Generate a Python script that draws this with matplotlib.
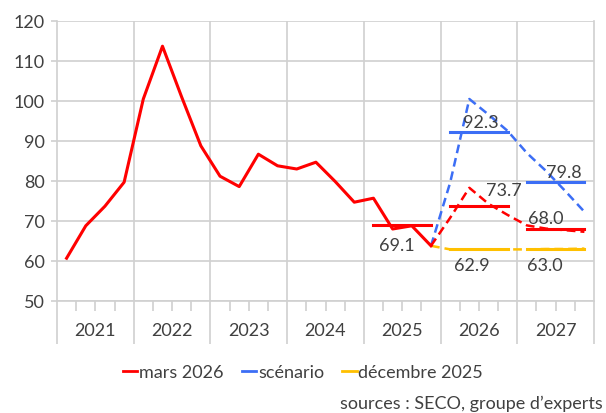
import matplotlib.pyplot as plt
import matplotlib.transforms as mtransforms
from matplotlib.lines import Line2D

plt.rcParams['font.family'] = ['Lato', 'DejaVu Sans']

years = ['2021', '2022', '2023', '2024', '2025', '2026', '2027']

# quarterly values, 2021Q1 .. 2025Q4 (observed)
hist = [60.7, 68.8, 73.7, 79.7, 100.5, 113.7, 101.0, 88.8,
        81.2, 78.6, 86.7, 83.8, 83.0, 84.7, 79.9, 74.7,
        75.7, 68.0, 68.8, 63.8]
# forecasts from 2025Q4 to 2027Q4
mars_fc = [63.8, 70.8, 78.3, 74.3, 71.5, 68.9, 68.1, 67.7, 67.3]
scen_fc = [63.8, 79.6, 100.5, 96.6, 92.5, 87.0, 82.5, 77.5, 72.3]
dec_fc = [63.8, 62.9, 62.9, 62.9, 62.9, 62.9, 63.0, 63.0, 63.1]

# annual averages
avg_mars_years = [2025, 2026, 2027]
avg_mars = [69.1, 73.7, 68.0]
avg_scen_years = [2026, 2027]
avg_scen = [92.3, 79.8]
avg_dec_years = [2026, 2027]
avg_dec = [62.9, 63.0]

red = '#FF0000'
blue = '#3C6EF5'
yellow = '#FFC000'
grid_c = '#D0D0D0'
txt_c = '#404040'

fig = plt.figure(figsize=(6.06, 4.14), dpi=100)
ax = fig.add_axes([57 / 606, 1 - 302 / 414, 537 / 606, 280 / 414])

x_hist = list(range(len(hist)))
x_fc = list(range(len(hist) - 1, len(hist) - 1 + len(mars_fc)))

ax.plot(x_fc, dec_fc, color=yellow, lw=1.8, ls=(0, (3.5, 2)), zorder=3)
ax.plot(x_fc, scen_fc, color=blue, lw=1.8, ls=(0, (3.5, 2)), zorder=3)
ax.plot(x_fc, mars_fc, color=red, lw=1.8, ls=(0, (3.5, 2)), zorder=4)
ax.plot(x_hist, hist, color=red, lw=2.2, zorder=5)


def qpos(year):
    i = years.index(str(year))
    return 4 * i, 4 * i + 3


def label(x, v, dy, va):
    ax.annotate(f'{v:.1f}', (x, v), xytext=(0, dy), textcoords='offset points',
                ha='center', va=va, fontsize=13, color=txt_c, zorder=6)


# label offsets (in quarters from the year's first point, points vertically)
dec_lab = [(1.15, -5.5, 'top'), (0.95, -5.5, 'top')]
scen_lab = [(1.6, 1, 'bottom'), (1.95, 1, 'bottom')]
mars_lab = [(1.2, -9, 'top'), (2.8, 6, 'bottom'), (1.0, 2, 'bottom')]

for yr, v, (dx, dy, va) in zip(avg_dec_years, avg_dec, dec_lab):
    a, b = qpos(yr)
    ax.plot([a, b], [v, v], color=yellow, lw=2.2, zorder=3)
    label(a + dx, v, dy, va)
for yr, v, (dx, dy, va) in zip(avg_scen_years, avg_scen, scen_lab):
    a, b = qpos(yr)
    ax.plot([a, b], [v, v], color=blue, lw=2.2, zorder=3)
    label(a + dx, v, dy, va)
for yr, v, (dx, dy, va) in zip(avg_mars_years, avg_mars, mars_lab):
    a, b = qpos(yr)
    ax.plot([a, b], [v, v], color=red, lw=2.2, zorder=4)
    label(a + dx, v, dy, va)

ax.set_xlim(-0.5, 27.5)
ax.set_ylim(50, 120)
ax.set_yticks(range(50, 121, 10))
ax.yaxis.grid(True, color=grid_c, lw=1.2)
for b in range(1, 7):
    ax.axvline(4 * b - 0.5, color=grid_c, lw=1.2, zorder=1)
ax.set_axisbelow(True)

for s in ax.spines.values():
    s.set_color(grid_c)
    s.set_linewidth(1.2)
ax.spines['top'].set_visible(False)

ax.set_xticks([4 * b - 0.5 for b in range(8)])
ax.set_xticklabels([])
ax.set_xticks([q + 0.5 for q in range(27) if (q + 1) % 4 != 0], minor=True)
ax.tick_params(axis='x', which='major', length=31, color=grid_c, width=1.2)
ax.tick_params(axis='x', which='minor', length=7.5, color=grid_c, width=1.2)
ax.tick_params(axis='y', length=4, color=grid_c, width=1.2, pad=5,
               labelsize=13, labelcolor=txt_c)

trans = mtransforms.blended_transform_factory(ax.transData, ax.transAxes)
for i, yr in enumerate(years):
    ax.text(4 * i + 1.5, -0.105, yr, transform=trans, ha='center', va='center',
            fontsize=13, color=txt_c)

handles = [Line2D([], [], color=red, lw=2),
           Line2D([], [], color=blue, lw=2),
           Line2D([], [], color=yellow, lw=2)]
fig.legend(handles, ['mars 2026', 'scénario', 'décembre 2025'],
           loc='center', bbox_to_anchor=(0.5, 1 - 373 / 414), ncol=3, frameon=False,
           fontsize=13, handlelength=0.8, handletextpad=0.1, columnspacing=1.0,
           labelcolor=txt_c)

fig.text(603 / 606, 1 - 404 / 414, 'sources : SECO, groupe d’experts', ha='right',
         va='center', fontsize=13, color=txt_c)

fig.savefig('out.png', dpi=100)
